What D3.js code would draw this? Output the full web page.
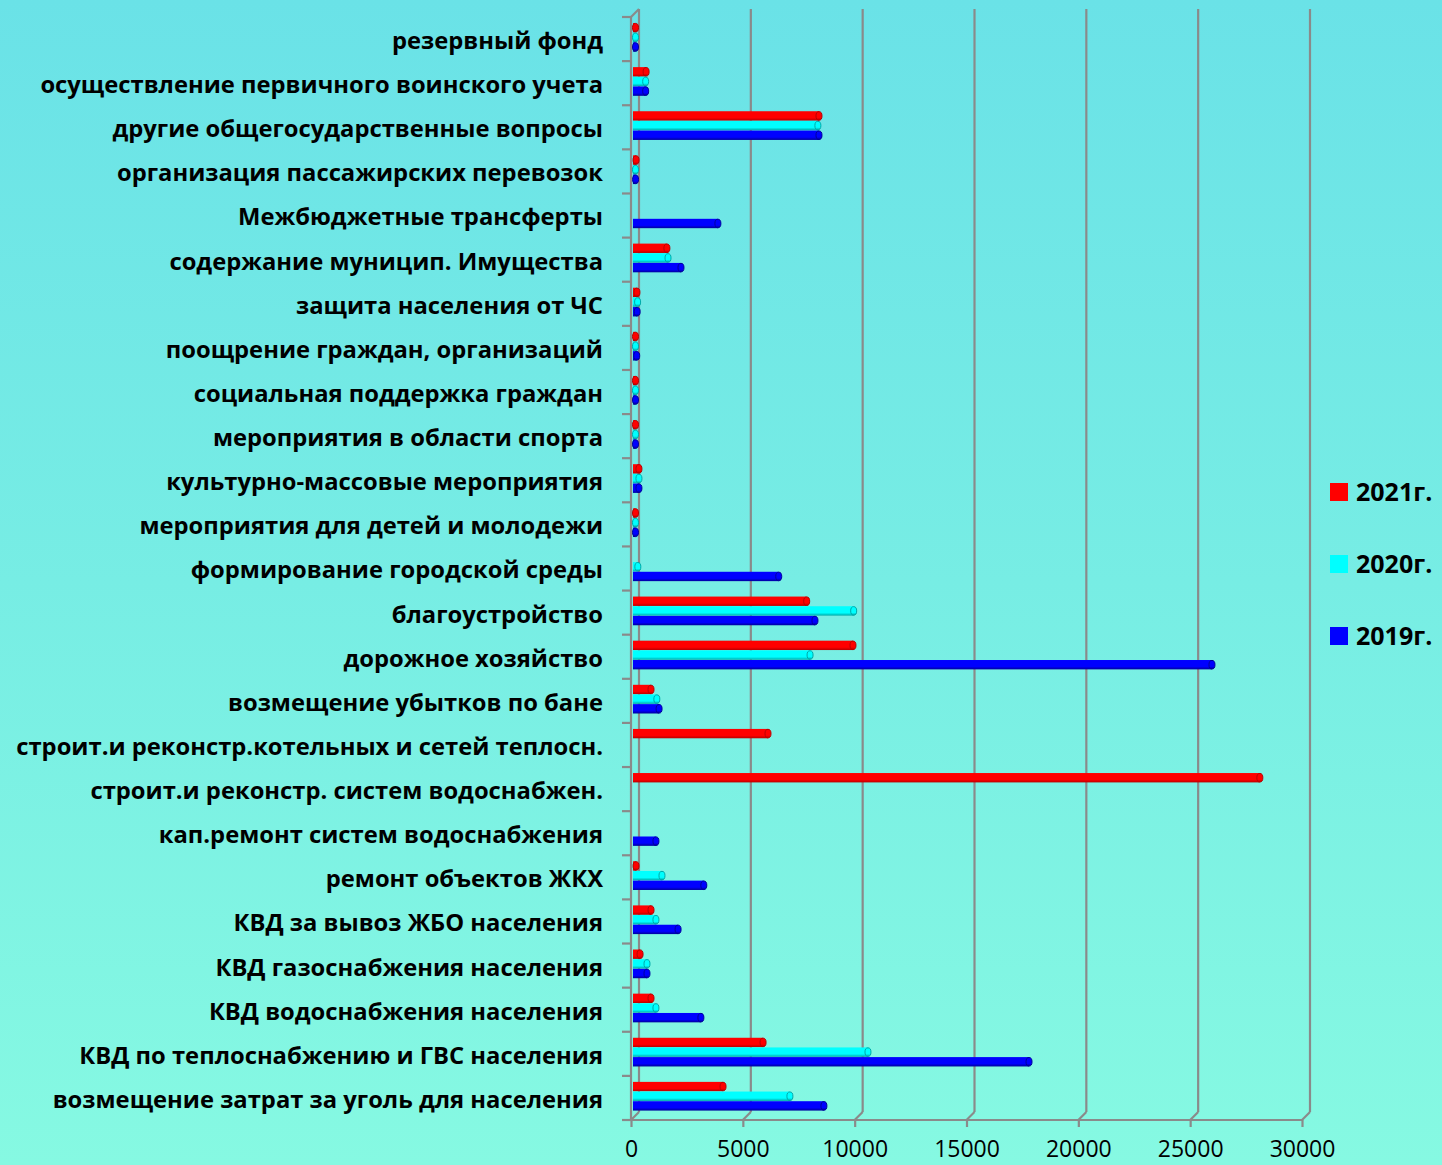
<!DOCTYPE html>
<html>
<head>
<meta charset="utf-8">
<script src="https://cdn.jsdelivr.net/npm/d3@7"></script>
<style>
  html, body { margin: 0; padding: 0; background: #78ece3; }
  svg { display: block; }
</style>
</head>
<body>
<svg id="chart" width="1442" height="1165"></svg>
<script>
const categories = [
  "резервный фонд",
  "осуществление первичного воинского учета",
  "другие общегосударственные вопросы",
  "организация пассажирских перевозок",
  "Межбюджетные трансферты",
  "содержание муницип. Имущества",
  "защита населения от ЧС",
  "поощрение граждан, организаций",
  "социальная поддержка граждан",
  "мероприятия в области спорта",
  "культурно-массовые мероприятия",
  "мероприятия для детей и молодежи",
  "формирование городской среды",
  "благоустройство",
  "дорожное хозяйство",
  "возмещение убытков по бане",
  "строит.и реконстр.котельных и сетей теплосн.",
  "строит.и реконстр. систем водоснабжен.",
  "кап.ремонт систем водоснабжения",
  "ремонт объектов ЖКХ",
  "КВД за вывоз ЖБО населения",
  "КВД газоснабжения населения",
  "КВД водоснабжения населения",
  "КВД по теплоснабжению и ГВС населения",
  "возмещение затрат за уголь для населения"
];
const values2021 = [150, 720, 8450, 270, 0, 1650, 310, 200, 200, 200, 400, 170, 0, 7900, 9970, 940, 6170, 28160, 0, 270, 940, 450, 940, 5950, 4160];
const values2020 = [60, 700, 8400, 200, 0, 1700, 340, 150, 120, 120, 400, 100, 350, 10000, 8050, 1200, 0, 0, 0, 1430, 1160, 760, 1160, 10640, 7150];
const values2019 = [100, 700, 8450, 250, 3930, 2280, 320, 300, 170, 150, 400, 170, 6650, 8270, 26020, 1300, 0, 0, 1160, 3300, 2150, 760, 3170, 17840, 8670];
const seriesNames = ["2021г.", "2020г.", "2019г."];
const seriesColors = ["#ff0000", "#00ffff", "#0000ff"];
const seriesDark = ["#b80000", "#00a8a8", "#00009a"];
const xTickValues = [0, 5000, 10000, 15000, 20000, 25000, 30000];

const seriesValues = [values2021, values2020, values2019];

const svg = d3.select("#chart");
const W = 1442, H = 1165;
const depthX = 8, depthY = 8;
const axisColor = "#8a8a8a";

// background gradient
const defs = svg.append("defs");
const bg = defs.append("linearGradient").attr("id", "bg").attr("x1", 0).attr("y1", 0).attr("x2", 0).attr("y2", 1);
bg.append("stop").attr("offset", "0%").attr("stop-color", "#6ae2e7");
bg.append("stop").attr("offset", "50%").attr("stop-color", "#77ede4");
bg.append("stop").attr("offset", "100%").attr("stop-color", "#86f9e2");
svg.append("rect").attr("width", W).attr("height", H).attr("fill", "url(#bg)");

seriesColors.forEach((c, i) => {
  const g = defs.append("linearGradient").attr("id", "bar" + i).attr("x1", 0).attr("y1", 0).attr("x2", 0).attr("y2", 1);
  g.append("stop").attr("offset", "0%").attr("stop-color", d3.color(c).brighter(0.25));
  g.append("stop").attr("offset", "25%").attr("stop-color", c);
  g.append("stop").attr("offset", "70%").attr("stop-color", c);
  g.append("stop").attr("offset", "100%").attr("stop-color", seriesDark[i]);
});

const x = d3.scaleLinear().domain([0, 30000]).range([631, 1302]);
const y = d3.scaleBand().domain(categories).range([17, 1120]).paddingInner(0).paddingOuter(0);
const ys = d3.scaleBand().domain(seriesNames).range([6, 35]);

const floorY = 1120;
const topY = 17;

// gridlines (back wall) + floor diagonals
const grid = svg.append("g").attr("stroke", axisColor).attr("stroke-width", 2.2).attr("fill", "none");
xTickValues.forEach(t => {
  grid.append("line").attr("x1", x(t) + depthX).attr("x2", x(t) + depthX)
    .attr("y1", topY - depthY).attr("y2", floorY - depthY);
  grid.append("line").attr("x1", x(t) + depthX).attr("y1", floorY - depthY)
    .attr("x2", x(t)).attr("y2", floorY);
});
// left wall front line and top diagonal
grid.append("line").attr("x1", x(0)).attr("x2", x(0)).attr("y1", topY).attr("y2", floorY);
grid.append("line").attr("x1", x(0)).attr("y1", topY).attr("x2", x(0) + depthX).attr("y2", topY - depthY);
// category ticks
const catEdges = categories.map(c => y(c)).concat([floorY]);
catEdges.forEach(yy => {
  grid.append("line").attr("x1", 622).attr("x2", x(0)).attr("y1", yy).attr("y2", yy);
});

// bottom axis
const xAxis = d3.axisBottom(x).tickValues(xTickValues).tickSize(7).tickPadding(14).tickFormat(d3.format("d"));
const ax = svg.append("g").attr("transform", `translate(0,${floorY})`).call(xAxis);
ax.select(".domain").attr("d", `M622,0H${x(30000)}`).attr("stroke", axisColor).attr("stroke-width", 2.2);
ax.selectAll(".tick line").attr("stroke", axisColor).attr("stroke-width", 2.2);
ax.selectAll(".tick text").attr("fill", "#000").style("font-family", "'Open Sans', 'Liberation Sans', sans-serif").style("font-size", "23px");

// bars
const barsG = svg.append("g");
const barData = [];
categories.forEach((c, ci) => {
  seriesNames.forEach((s, si) => {
    const v = seriesValues[si][ci];
    if (v > 0) barData.push({ c, s, si, v });
  });
});
const bh = ys.bandwidth() - 0.3;
const x0 = x(0) + 2;
const capR = 3;
const barEnd = d => Math.max(x0 + 2.5, x0 + (x(d.v) - x(0)) - capR);
const bar = barsG.selectAll("g.bar").data(barData).join("g").attr("class", "bar");
bar.append("rect")
  .attr("x", x0)
  .attr("y", d => y(d.c) + ys(d.s))
  .attr("width", d => Math.max(0, barEnd(d) - x0))
  .attr("height", bh)
  .attr("fill", d => `url(#bar${d.si})`);
bar.append("ellipse")
  .attr("cx", d => barEnd(d))
  .attr("cy", d => y(d.c) + ys(d.s) + bh / 2)
  .attr("rx", capR)
  .attr("ry", bh / 2 - 0.4)
  .attr("fill", d => `url(#bar${d.si})`)
  .attr("stroke", d => seriesDark[d.si])
  .attr("stroke-width", 1);

// category labels
const labelFont = "'Open Sans', 'Noto Sans', 'Liberation Sans', sans-serif";
const labels = svg.append("g").selectAll("text").data(categories).join("text")
  .attr("x", 603)
  .attr("y", d => y(d) + 32)
  .attr("text-anchor", "end")
  .attr("fill", "#000")
  .style("font-family", labelFont)
  .style("font-weight", "bold")
  .style("font-size", "24px")
  .text(d => d);
// fit font size to reference label width
const refNode = labels.filter(d => d === categories[1]).node();
const refW = refNode.getComputedTextLength();
const fs = 24 * 563 / refW;
labels.style("font-size", fs + "px");

// legend
const legend = svg.append("g");
const legendY = d3.scalePoint().domain(seriesNames).range([492, 636]);
seriesNames.forEach((s, i) => {
  legend.append("rect").attr("x", 1330).attr("y", legendY(s) - 9).attr("width", 18).attr("height", 18).attr("fill", seriesColors[i]);
  legend.append("text").attr("x", 1356).attr("y", legendY(s) + 9)
    .attr("fill", "#000")
    .style("font-family", labelFont).style("font-weight", "bold").style("font-size", "25px")
    .text(s);
});
</script>
</body>
</html>
